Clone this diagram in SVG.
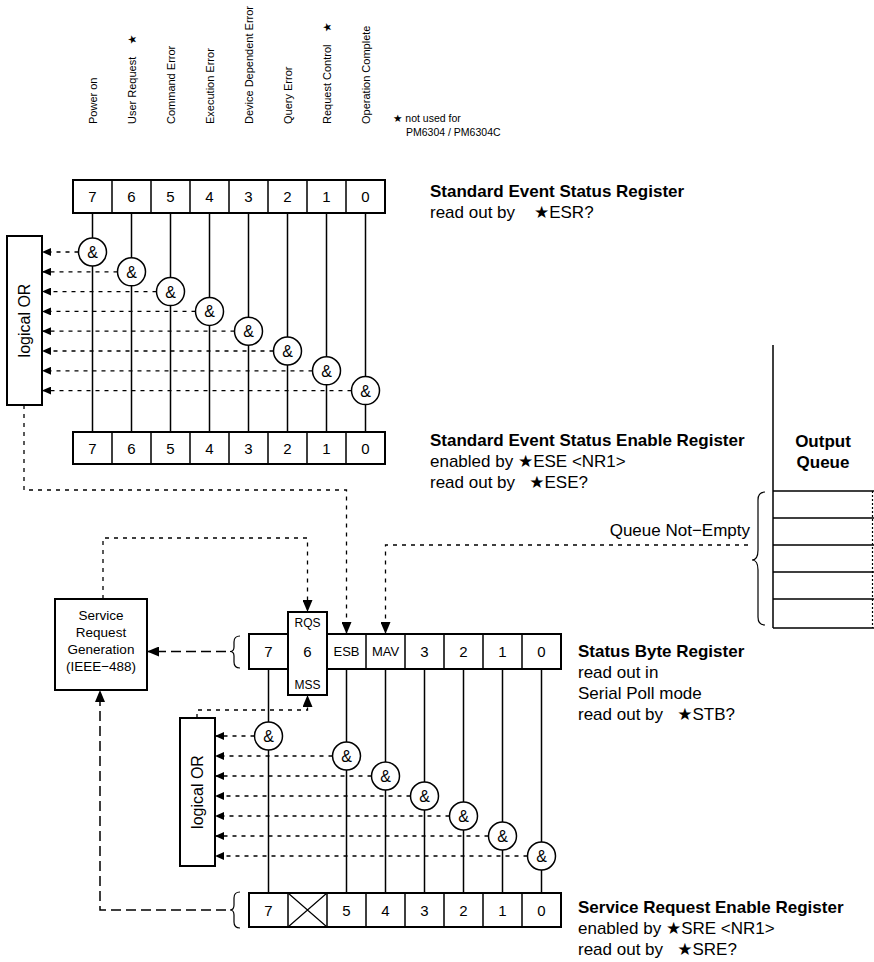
<svg xmlns="http://www.w3.org/2000/svg" width="874" height="962" viewBox="0 0 874 962">
<defs>
<marker id="sa" viewBox="0 0 9 8" refX="9" refY="4" markerWidth="9" markerHeight="8" markerUnits="userSpaceOnUse" orient="auto"><path d="M0,0 L9,4 L0,8 z" fill="#000"/></marker>
<marker id="ba" viewBox="0 0 12 10" refX="12" refY="5" markerWidth="12" markerHeight="10" markerUnits="userSpaceOnUse" orient="auto"><path d="M0,0 L12,5 L0,10 z" fill="#000"/></marker>
</defs>
<style>
text{font-family:"Liberation Sans",Arial,"DejaVu Sans",sans-serif;fill:#000}
.lbl{font-size:11px}
.dig{font-size:15px;text-anchor:middle}
.sm{font-size:12px;text-anchor:middle}
.ttl{font-size:17px;font-weight:bold}
.txt{font-size:17px}
.note{font-size:10.5px}
.amp{font-size:16px;text-anchor:middle}
.srg{font-size:13.5px;text-anchor:middle}
.reg{fill:#fff;stroke:#000;stroke-width:2}
.ln{stroke:#000;stroke-width:1.5;fill:none}
.thin{stroke:#000;stroke-width:1.2;fill:none}
.dot{stroke:#000;stroke-width:1.3;fill:none;stroke-dasharray:4,5}
.dash{stroke:#000;stroke-width:1.5;fill:none;stroke-dasharray:10,5}
.gate{fill:#fff;stroke:#000;stroke-width:1.5}
</style>
<rect width="874" height="962" fill="#fff"/>

<!-- bit labels -->
<g id="bit-labels">
<text class="lbl" transform="translate(96.5,124) rotate(-90)">Power on</text>
<text class="lbl" transform="translate(135.5,124) rotate(-90)">User Request&#160;&#160;&#160; ★</text>
<text class="lbl" transform="translate(174.5,124) rotate(-90)">Command Error</text>
<text class="lbl" transform="translate(213.5,124) rotate(-90)">Execution Error</text>
<text class="lbl" transform="translate(252.5,124) rotate(-90)">Device Dependent Error</text>
<text class="lbl" transform="translate(291.5,124) rotate(-90)">Query Error</text>
<text class="lbl" transform="translate(330.5,124) rotate(-90)">Request Control&#160;&#160;&#160; ★</text>
<text class="lbl" transform="translate(369.5,124) rotate(-90)">Operation Complete</text>
</g>
<g id="note">
<text class="note" x="393" y="122">★ not used for</text>
<text class="note" x="406" y="136">PM6304 / PM6304C</text>
</g>

<!-- connectors -->
<g id="connectors">
<path class="ln" d="M92.5,213V238 M92.5,266V432 M131.5,213V257.8 M131.5,285.8V432 M170.5,213V277.6 M170.5,305.6V432 M209.5,213V297.4 M209.5,325.4V432 M248.5,213V317.2 M248.5,345.2V432 M287.5,213V337 M287.5,365V432 M326.5,213V356.8 M326.5,384.8V432 M365.5,213V376.6 M365.5,404.6V432"/>
<path class="dot" marker-end="url(#sa)" d="M78.5,252H42"/>
<path class="dot" marker-end="url(#sa)" d="M117.5,271.8H42"/>
<path class="dot" marker-end="url(#sa)" d="M156.5,291.6H42"/>
<path class="dot" marker-end="url(#sa)" d="M195.5,311.4H42"/>
<path class="dot" marker-end="url(#sa)" d="M234.5,331.2H42"/>
<path class="dot" marker-end="url(#sa)" d="M273.5,351H42"/>
<path class="dot" marker-end="url(#sa)" d="M312.5,370.8H42"/>
<path class="dot" marker-end="url(#sa)" d="M351.5,390.6H42"/>
<path class="dot" marker-end="url(#ba)" d="M24,405V490H346.5V634"/>
<path class="dot" marker-end="url(#ba)" d="M103,599V538H307.5V612"/>
<path class="dot" marker-end="url(#ba)" d="M748,545H385.5V634"/>
<path class="dash" marker-end="url(#ba)" d="M226,651.5H147"/>
<path class="dash" marker-end="url(#ba)" d="M226,910H100V690"/>
<path class="dot" marker-end="url(#ba)" d="M197,718V710H307.5V695"/>
<path class="ln" d="M268.5,669V722 M268.5,750V893 M346.5,669V742 M346.5,770V893 M385.5,669V762 M385.5,790V893 M424.5,669V782 M424.5,810V893 M463.5,669V802 M463.5,830V893 M502.5,669V822 M502.5,850V893 M541.5,669V842 M541.5,870V893"/>
<path class="dot" marker-end="url(#sa)" d="M254.5,736H215"/>
<path class="dot" marker-end="url(#sa)" d="M332.5,756H215"/>
<path class="dot" marker-end="url(#sa)" d="M371.5,776H215"/>
<path class="dot" marker-end="url(#sa)" d="M410.5,796H215"/>
<path class="dot" marker-end="url(#sa)" d="M449.5,816H215"/>
<path class="dot" marker-end="url(#sa)" d="M488.5,836H215"/>
<path class="dot" marker-end="url(#sa)" d="M527.5,856H215"/>
</g>

<!-- Standard Event Status Register -->
<g id="esr">
<rect class="reg" x="73" y="180" width="312" height="33"/>
<path class="ln" d="M112,180V213 M151,180V213 M190,180V213 M229,180V213 M268,180V213 M307,180V213 M346,180V213"/>
<text class="dig" x="92.5" y="202">7</text><text class="dig" x="131.5" y="202">6</text><text class="dig" x="170.5" y="202">5</text><text class="dig" x="209.5" y="202">4</text><text class="dig" x="248.5" y="202">3</text><text class="dig" x="287.5" y="202">2</text><text class="dig" x="326.5" y="202">1</text><text class="dig" x="365.5" y="202">0</text>
<text class="ttl" x="430" y="197">Standard Event Status Register</text>
<text class="txt" x="430" y="218">read out by&#160;&#160;&#160; ★ESR?</text>
</g>

<!-- top AND gates -->
<g id="and-top">
<g id="and-e7"><circle class="gate" cx="92.5" cy="252" r="14"/><text class="amp" x="92.5" y="258">&amp;</text></g>
<g id="and-e6"><circle class="gate" cx="131.5" cy="271.8" r="14"/><text class="amp" x="131.5" y="277.8">&amp;</text></g>
<g id="and-e5"><circle class="gate" cx="170.5" cy="291.6" r="14"/><text class="amp" x="170.5" y="297.6">&amp;</text></g>
<g id="and-e4"><circle class="gate" cx="209.5" cy="311.4" r="14"/><text class="amp" x="209.5" y="317.4">&amp;</text></g>
<g id="and-e3"><circle class="gate" cx="248.5" cy="331.2" r="14"/><text class="amp" x="248.5" y="337.2">&amp;</text></g>
<g id="and-e2"><circle class="gate" cx="287.5" cy="351" r="14"/><text class="amp" x="287.5" y="357">&amp;</text></g>
<g id="and-e1"><circle class="gate" cx="326.5" cy="370.8" r="14"/><text class="amp" x="326.5" y="376.8">&amp;</text></g>
<g id="and-e0"><circle class="gate" cx="365.5" cy="390.6" r="14"/><text class="amp" x="365.5" y="396.6">&amp;</text></g>
</g>

<g id="or-top">
<rect class="reg" x="7" y="236" width="35" height="169" stroke-width="1.5"/>
<text class="txt" text-anchor="middle" transform="translate(30,320.5) rotate(-90)" style="font-size:16px">logical OR</text>
</g>

<!-- Standard Event Status Enable Register -->
<g id="ese">
<rect class="reg" x="73" y="432" width="312" height="32"/>
<path class="ln" d="M112,432V464 M151,432V464 M190,432V464 M229,432V464 M268,432V464 M307,432V464 M346,432V464"/>
<text class="dig" x="92.5" y="454">7</text><text class="dig" x="131.5" y="454">6</text><text class="dig" x="170.5" y="454">5</text><text class="dig" x="209.5" y="454">4</text><text class="dig" x="248.5" y="454">3</text><text class="dig" x="287.5" y="454">2</text><text class="dig" x="326.5" y="454">1</text><text class="dig" x="365.5" y="454">0</text>
<text class="ttl" x="430" y="446">Standard Event Status Enable Register</text>
<text class="txt" x="430" y="467">enabled by ★ESE &lt;NR1&gt;</text>
<text class="txt" x="430" y="488">read out by&#160;&#160; ★ESE?</text>
</g>

<!-- Output Queue -->
<g id="output-queue">
<path class="ln" d="M773,345V628 M773,491H874 M773,518H874 M773,545H874 M773,572H874 M773,599H874 M773,628H874"/>
<path class="thin" d="M872.5,491V628" stroke-dasharray="2,2"/>
<text class="ttl" x="823" y="447" text-anchor="middle">Output</text>
<text class="ttl" x="823" y="468" text-anchor="middle">Queue</text>
<path class="thin" d="M765,492Q758,492 758,500L758,550Q758,560 752,560Q758,560 758,570L758,617Q758,625 765,625"/>
<text class="txt" x="750" y="536" text-anchor="end">Queue Not−Empty</text>
</g>

<!-- Service Request Generation -->
<g id="srg">
<rect class="reg" x="55" y="599" width="92" height="91"/>
<text class="srg" x="101" y="620">Service</text>
<text class="srg" x="101" y="637">Request</text>
<text class="srg" x="101" y="654">Generation</text>
<text class="srg" x="101" y="671">(IEEE−488)</text>
</g>

<!-- Status Byte Register -->
<g id="sbr">
<path class="thin" d="M240,636Q234,636 234,642L234,647Q234,651.5 230,651.5Q234,651.5 234,656L234,662Q234,668 240,668"/>
<rect class="reg" x="249" y="634" width="312" height="35"/>
<path class="ln" d="M366,634V669 M405,634V669 M444,634V669 M483,634V669 M522,634V669"/>
<rect class="reg" x="288" y="612" width="39" height="83"/>
<text class="sm" x="307.5" y="627">RQS</text>
<text class="dig" x="307.5" y="657">6</text>
<text class="sm" x="307.5" y="689">MSS</text>
<text class="dig" x="268.5" y="657">7</text>
<text class="sm" x="346.5" y="656" style="font-size:13px">ESB</text>
<text class="sm" x="385.5" y="656" style="font-size:13px">MAV</text>
<text class="dig" x="424.5" y="657">3</text><text class="dig" x="463.5" y="657">2</text><text class="dig" x="502.5" y="657">1</text><text class="dig" x="541.5" y="657">0</text>
<text class="ttl" x="578" y="657">Status Byte Register</text>
<text class="txt" x="578" y="678">read out in</text>
<text class="txt" x="578" y="699">Serial Poll mode</text>
<text class="txt" x="578" y="720">read out by&#160;&#160; ★STB?</text>
</g>

<g id="or-bottom">
<rect class="reg" x="180" y="718" width="35" height="148" stroke-width="1.5"/>
<text class="txt" text-anchor="middle" transform="translate(203,792) rotate(-90)" style="font-size:16px">logical OR</text>
</g>

<!-- bottom AND gates -->
<g id="and-bottom">
<g id="and-s7"><circle class="gate" cx="268.5" cy="736" r="14"/><text class="amp" x="268.5" y="742">&amp;</text></g>
<g id="and-s5"><circle class="gate" cx="346.5" cy="756" r="14"/><text class="amp" x="346.5" y="762">&amp;</text></g>
<g id="and-s4"><circle class="gate" cx="385.5" cy="776" r="14"/><text class="amp" x="385.5" y="782">&amp;</text></g>
<g id="and-s3"><circle class="gate" cx="424.5" cy="796" r="14"/><text class="amp" x="424.5" y="802">&amp;</text></g>
<g id="and-s2"><circle class="gate" cx="463.5" cy="816" r="14"/><text class="amp" x="463.5" y="822">&amp;</text></g>
<g id="and-s1"><circle class="gate" cx="502.5" cy="836" r="14"/><text class="amp" x="502.5" y="842">&amp;</text></g>
<g id="and-s0"><circle class="gate" cx="541.5" cy="856" r="14"/><text class="amp" x="541.5" y="862">&amp;</text></g>
</g>

<!-- Service Request Enable Register -->
<g id="sre">
<path class="thin" d="M240,892Q234,892 234,898L234,905Q234,910 230,910Q234,910 234,915L234,922Q234,928 240,928"/>
<rect class="reg" x="249" y="893" width="312" height="34"/>
<path class="ln" d="M288,893V927 M327,893V927 M366,893V927 M405,893V927 M444,893V927 M483,893V927 M522,893V927"/>
<path class="thin" d="M288,893L327,927 M327,893L288,927"/>
<text class="dig" x="268.5" y="916">7</text><text class="dig" x="346.5" y="916">5</text><text class="dig" x="385.5" y="916">4</text><text class="dig" x="424.5" y="916">3</text><text class="dig" x="463.5" y="916">2</text><text class="dig" x="502.5" y="916">1</text><text class="dig" x="541.5" y="916">0</text>
<text class="ttl" x="578" y="913">Service Request Enable Register</text>
<text class="txt" x="578" y="934">enabled by ★SRE &lt;NR1&gt;</text>
<text class="txt" x="578" y="955">read out by&#160;&#160; ★SRE?</text>
</g>
</svg>
